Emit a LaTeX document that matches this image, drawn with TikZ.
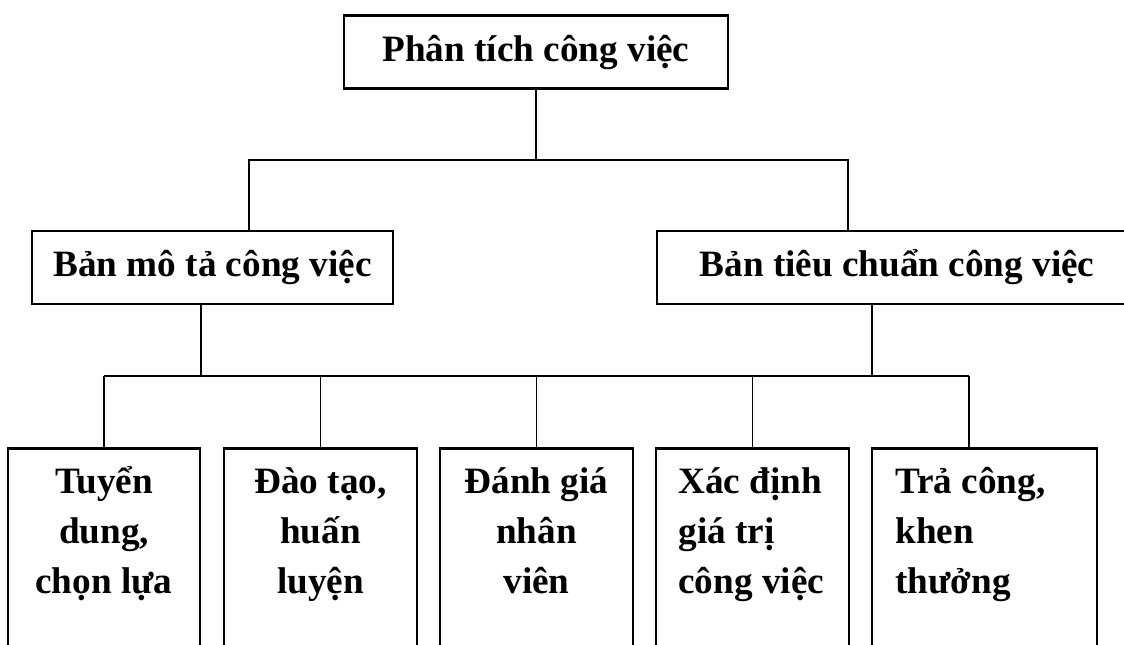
\documentclass[tikz,border=0pt]{standalone}
\usepackage{fontspec}
\setmainfont{Liberation Serif}
\usetikzlibrary{positioning}

\begin{document}
\begin{tikzpicture}[x=0.5pt, y=-0.5pt,
  box/.style={draw, rectangle, line width=1.3pt, inner sep=0pt, minimum height=36.5pt,
    font=\fontsize{18.6}{25}\selectfont\bfseries},
  leaf/.style={draw, rectangle, line width=1.3pt, anchor=north, minimum height=120pt},
  leaftext/.style={inner sep=0pt, anchor=base, align=center,
    font=\fontsize{18.6}{25}\selectfont\bfseries},
  link/.style={line width=0.9pt}]
\useasboundingbox (0,0) rectangle (1124,644);
\clip (0,0) rectangle (1124,644);

\node[box, minimum width=192pt] (phantich) at (536,52) {Phân tích công việc};
\node[box, minimum width=180.5pt] (mota) at (212.5,267.5) {Bản mô tả công việc};
\node[box, minimum width=240pt] (tieuchuan) at (897,267.5) {Bản tiêu chuẩn công việc};

\node[leaf, minimum width=96pt] (tuyendung) at (104,447) {};
\node[leaf, minimum width=96.5pt] (daotao) at (320.5,447) {};
\node[leaf, minimum width=96.5pt] (danhgia) at (536.5,447) {};
\node[leaf, minimum width=96.5pt] (xacdinh) at (752.5,447) {};
\node[leaf, minimum width=112.5pt] (tracong) at (984.5,447) {};

% text sits on the baseline of its last line
\node[leaftext] (tuyendungt) at (104,593) {Tuyển\\dung,\\chọn lựa};
\node[leaftext] (daotaot) at (320.5,593) {Đào tạo,\\huấn\\luyện};
\node[leaftext] (danhgiat) at (536.5,593) {Đánh giá\\nhân\\viên};
\node[leaftext, anchor=base west, align=left] (xacdinht) at (678,593) {Xác định\\giá trị\\công việc};
\node[leaftext, anchor=base west, align=left] (tracongt) at (895,593) {Trả công,\\khen\\thưởng};

% first level
\coordinate (jtop) at (536,160);
\coordinate (jmota) at (249,160);
\coordinate (jtieu) at (848,160);
\draw[link] (phantich) -- (jtop);
\draw[link] (jmota |- mota.north) -- (jmota) -- (jtieu) -- (jtieu |- tieuchuan.north);

% second level
\coordinate (kmota) at (201,376);
\coordinate (ktieu) at (872,376);
\coordinate (kleft) at (104,376);
\coordinate (kright) at (969,376);
\draw[link] (kmota |- mota.south) -- (kmota);
\draw[link] (ktieu |- tieuchuan.south) -- (ktieu);
\draw[link] (kleft) -- (kright);

\draw[link] (tuyendung.north) -- (kleft);
\draw[link] (daotao.north) -- (daotao.north |- kleft);
\draw[link] (danhgia.north) -- (danhgia.north |- kleft);
\draw[link] (xacdinh.north) -- (xacdinh.north |- kleft);
\draw[link] (kright |- tracong.north) -- (kright);
\end{tikzpicture}
\end{document}
